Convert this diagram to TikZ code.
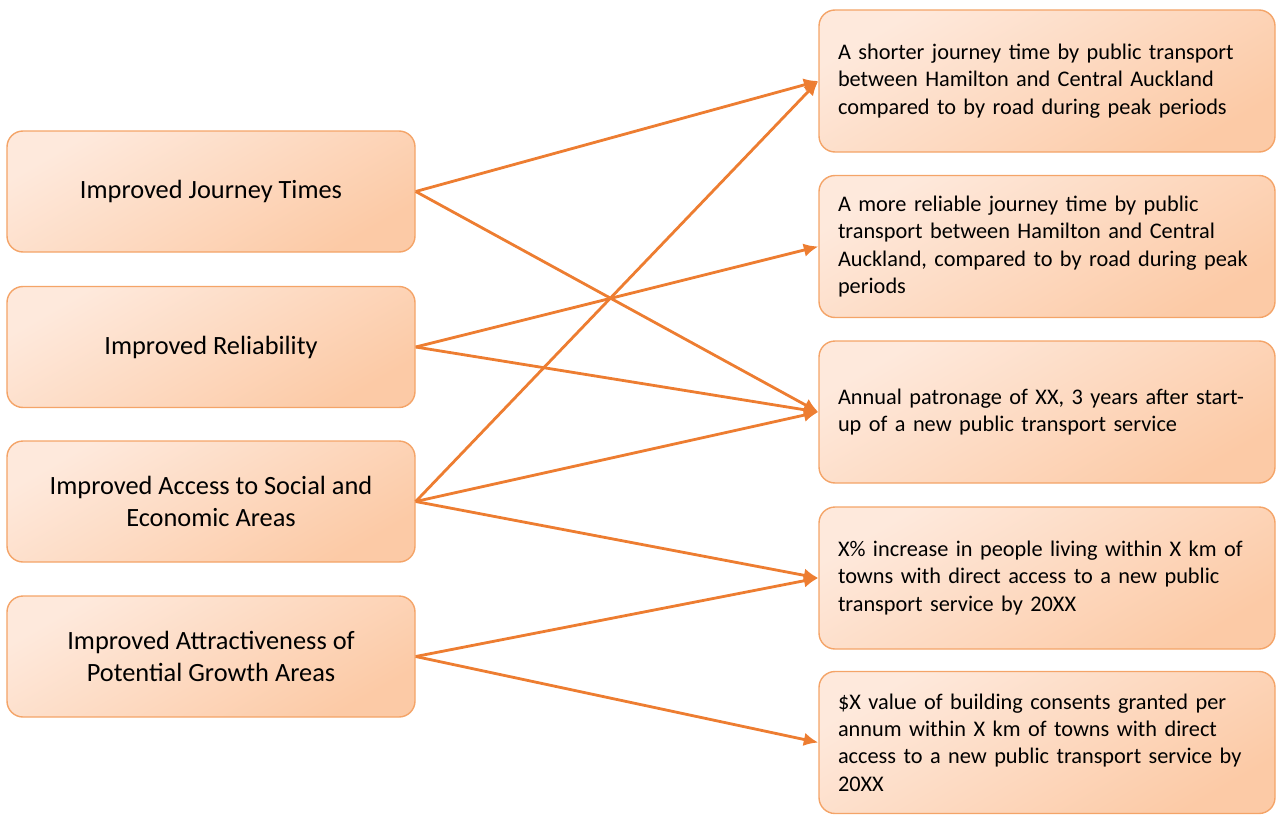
\documentclass[tikz,border=0pt]{standalone}
\usepackage{fontspec}
\setmainfont{Carlito}
\usetikzlibrary{arrows.meta}

\definecolor{boxlight}{HTML}{FEE9DC}
\definecolor{boxdark}{HTML}{FCCAA6}
\definecolor{boxline}{HTML}{F4A468}
\definecolor{linkorange}{HTML}{ED7D31}

\tikzset{
  gradbox/.style={rectangle,rounded corners=0.32cm,draw=boxline,line width=0.8pt,
    top color=boxlight,bottom color=boxdark,shading angle=30},
  benefit/.style={gradbox,minimum width=8.16cm,minimum height=2.42cm,
    align=center,font=\fontsize{15pt}{18pt}\selectfont},
  kpi/.style={gradbox,minimum width=9.12cm,minimum height=2.84cm,text width=8.36cm,
    inner xsep=0.38cm,align=left,font=\fontsize{12.7pt}{15.6pt}\selectfont},
  link/.style={-{Latex[length=2.9mm,width=2.7mm]},draw=linkorange,line width=1.6pt}
}

\begin{document}
\begin{tikzpicture}

      \useasboundingbox (0,0) rectangle (25.52,-16.28);

      % benefits
      \node[benefit] (jt) at (4.22,-3.83){Improved Journey Times};
      \node[benefit] (rel) at (4.22,-6.94){Improved Reliability};
      \node[benefit] (acc) at (4.22,-10.03){Improved Access to Social and\\Economic Areas};
      \node[benefit] (attr) at (4.22,-13.13){Improved Attractiveness of\\Potential Growth Areas};

      % measures
      \node[kpi] (short) at (20.94,-1.62){A shorter journey time by public transport\\between Hamilton and Central Auckland\\compared to by road during peak periods};
      \node[kpi] (reliab) at (20.94,-4.93){A more reliable journey time by public\\transport between Hamilton and Central\\Auckland, compared to by road during peak\\periods};
      \node[kpi] (patr) at (20.94,-8.24){Annual patronage of XX, 3 years after start-\\up of a new public transport service};
      \node[kpi] (pop) at (20.94,-11.56){X\% increase in people living within X km of\\towns with direct access to a new public\\transport service by 20XX};
      \node[kpi] (cons) at (20.94,-14.85){\$X value of building consents granted per\\annum within X km of towns with direct\\access to a new public transport service by\\20XX};

      \draw[link] (jt.east) -- (short.west);
      \draw[link] (jt.east) -- (patr.west);
      \draw[link] (rel.east) -- (reliab.west);
      \draw[link] (rel.east) -- (patr.west);
      \draw[link] (acc.east) -- (short.west);
      \draw[link] (acc.east) -- (patr.west);
      \draw[link] (acc.east) -- (pop.west);
      \draw[link] (attr.east) -- (pop.west);
      \draw[link] (attr.east) -- (cons.west);

    \end{tikzpicture}
\end{document}
